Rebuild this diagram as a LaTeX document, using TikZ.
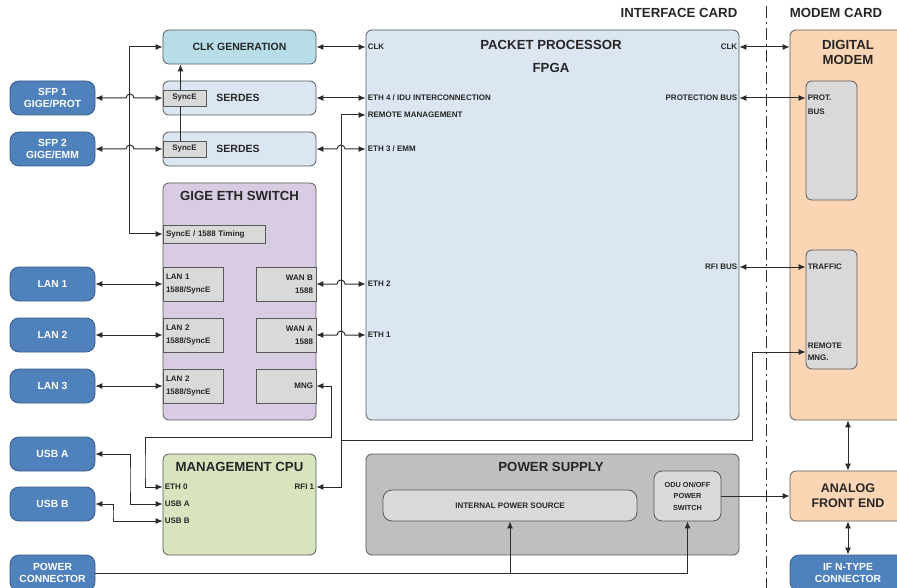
\documentclass[tikz,border=0pt]{standalone}
\usepackage{fontspec}
\setmainfont{Liberation Sans}
\usetikzlibrary{positioning,calc,arrows.meta}

\definecolor{extblue}{HTML}{4F81BD}
\definecolor{extedge}{HTML}{385D8A}
\definecolor{clkfill}{HTML}{B6DDE8}
\definecolor{fpgafill}{HTML}{DCE6F2}
\definecolor{swfill}{HTML}{D8CCE2}
\definecolor{cpufill}{HTML}{D7E4BD}
\definecolor{psfill}{HTML}{BFBFBF}
\definecolor{portfill}{HTML}{D9D9D9}
\definecolor{modemfill}{HTML}{FCD5B5}
\definecolor{edgegray}{HTML}{595959}
\definecolor{wiregray}{HTML}{2B2B2B}
\definecolor{inkgray}{HTML}{262626}

\begin{document}
\begin{tikzpicture}[
  x=1pt, y=-1pt,
  font=\bfseries,
  blk/.style={draw=edgegray, line width=0.8pt, rounded corners=6pt, inner sep=0pt},
  ext/.style={blk, draw=extedge, fill=extblue, rounded corners=9pt, text=white,
    minimum width=85pt, minimum height=34pt, align=center,
    font=\bfseries\fontsize{10.3}{12}\selectfont},
  port/.style={draw=edgegray, line width=0.7pt, fill=portfill, inner sep=3pt,
    minimum height=34pt, font=\bfseries\fontsize{8}{13}\selectfont, text=inkgray},
  sig/.style={inner sep=2pt, font=\bfseries\fontsize{8}{12}\selectfont, text=inkgray},
  ttl/.style={inner sep=0pt, font=\bfseries\fontsize{13.2}{15}\selectfont, text=inkgray},
  sub/.style={inner sep=0pt, font=\bfseries\fontsize{10.5}{12}\selectfont, text=inkgray},
  wire/.style={draw=wiregray, line width=1pt},
  one/.style={wire, -{Latex[length=7pt,width=6pt]}},
  both/.style={wire, {Latex[length=7pt,width=6pt]}-{Latex[length=7pt,width=6pt]}},
  ]
  \path[use as bounding box, clip] (0,0) rectangle (897,588);

  % card split
  \node[ttl] (ifcard) at (679,13) {INTERFACE CARD};
  \node[ttl] (mdcard) at (836,13) {MODEM CARD};
  \coordinate (split-top) at (766,6);
  \coordinate (split-bot) at (766,592);
  \draw[wire, dash pattern=on 12pt off 4pt on 2pt off 4pt] (split-top) -- (split-bot);

  % external connectors
  \node[ext] (sfp1) at (52.5,98)  {SFP 1\\GIGE/PROT};
  \node[ext] (sfp2) at (52.5,149) {SFP 2\\GIGE/EMM};
  \node[ext] (lan1) at (52.5,284) {LAN 1};
  \node[ext] (lan2) at (52.5,335) {LAN 2};
  \node[ext] (lan3) at (52.5,386) {LAN 3};
  \node[ext] (usba) at (52.5,454) {USB A};
  \node[ext] (usbb) at (52.5,504) {USB B};
  \node[ext, minimum height=36pt] (pwr) at (52.5,573) {POWER\\CONNECTOR};

  % clock and serdes
  \node[blk, fill=clkfill, minimum width=153pt, minimum height=34pt] (clkgen) at (239.5,47) {};
  \node[sub] at (clkgen) {CLK GENERATION};
  \node[blk, fill=fpgafill, minimum width=153pt, minimum height=34pt] (serdesA) at (239.5,98) {};
  \node[sub] at (238,98) {SERDES};
  \node[blk, fill=fpgafill, minimum width=153pt, minimum height=34pt] (serdesB) at (239.5,149) {};
  \node[sub] at (238,149) {SERDES};
  \node[port, minimum height=16pt, text width=37pt, align=center] (syncA) at (184.5,98) {SyncE};
  \node[port, minimum height=16pt, text width=37pt, align=center] (syncB) at (184.5,149) {SyncE};

  % switch
  \node[blk, fill=swfill, minimum width=153pt, minimum height=237pt] (sw) at (239.5,301.5) {};
  \node[ttl] at (239.5,196) {GIGE ETH SWITCH};
  \node[port, minimum height=18pt, text width=96pt, align=left] (timing) at (214,234) {SyncE / 1588 Timing};
  \node[port, text width=54pt, align=left]  (lan1p) at (193,284) {LAN 1\\1588/SyncE};
  \node[port, text width=54pt, align=left]  (lan2p) at (193,335) {LAN 2\\1588/SyncE};
  \node[port, text width=54pt, align=left]  (lan3p) at (193,386) {LAN 2\\1588/SyncE};
  \node[port, text width=54pt, align=right] (wanb)  at (286,284) {WAN B\\1588};
  \node[port, text width=54pt, align=right] (wana)  at (286,335) {WAN A\\1588};
  \node[port, text width=54pt, align=right] (mng)   at (286,386) {MNG};

  % management cpu
  \node[blk, fill=cpufill, minimum width=153pt, minimum height=101pt] (cpu) at (239.5,504.5) {};
  \node[ttl] at (239.5,467) {MANAGEMENT CPU};
  \node[sig, anchor=west] (cpu-eth0) at (cpu.west |- 0,487) {ETH 0};
  \node[sig, anchor=west] (cpu-usba) at (cpu.west |- 0,504) {USB A};
  \node[sig, anchor=west] (cpu-usbb) at (cpu.west |- 0,521) {USB B};
  \node[sig, anchor=east] (cpu-rfi1) at (cpu.east |- 0,487) {RFI 1};

  % packet processor
  \node[blk, fill=fpgafill, minimum width=373pt, minimum height=390pt] (pp) at (552.5,225) {};
  \node[ttl] at (551,45) {PACKET PROCESSOR};
  \node[ttl] at (551,68) {FPGA};
  \node[sig, anchor=west] (pp-clk)  at (pp.west |- clkgen)  {CLK};
  \node[sig, anchor=west] (pp-eth4) at (pp.west |- serdesA) {ETH 4 / IDU INTERCONNECTION};
  \node[sig, anchor=west] (pp-rmgt) at (pp.west |- 0,115)   {REMOTE MANAGEMENT};
  \node[sig, anchor=west] (pp-eth3) at (pp.west |- serdesB) {ETH 3 / EMM};
  \node[sig, anchor=west] (pp-eth2) at (pp.west |- wanb)    {ETH 2};
  \node[sig, anchor=west] (pp-eth1) at (pp.west |- wana)    {ETH 1};
  \node[sig, anchor=east] (pp-clkr) at (pp.east |- clkgen)  {CLK};
  \node[sig, anchor=east] (pp-prot) at (pp.east |- serdesA) {PROTECTION BUS};
  \node[sig, anchor=east] (pp-rfi)  at (pp.east |- 0,267)   {RFI BUS};

  % power supply
  \node[blk, fill=psfill, minimum width=373pt, minimum height=101pt] (ps) at (552.5,504.5) {};
  \node[ttl] at (551,467) {POWER SUPPLY};
  \node[blk, fill=portfill, rounded corners=9pt, minimum width=254pt, minimum height=31pt,
    font=\bfseries\fontsize{8}{10}\selectfont, text=inkgray] (intps) at (510,505.5) {INTERNAL POWER SOURCE};
  \node[blk, fill=portfill, rounded corners=8pt, minimum width=67pt, minimum height=50pt, align=center,
    font=\bfseries\fontsize{7.3}{11.5}\selectfont, text=inkgray] (odu) at (687.5,496) {ODU ON/OFF\\POWER\\SWITCH};

  % modem card
  \node[blk, fill=modemfill, minimum width=116pt, minimum height=390pt] (modem) at (848,225) {};
  \node[ttl, align=center] at (848,52.5) {DIGITAL\\MODEM};
  \node[blk, fill=portfill, minimum width=51pt, minimum height=119pt] (protbus) at (831.5,140.5) {};
  \node[sig, anchor=west, align=left, font=\bfseries\fontsize{8}{14}\selectfont] at (protbus.west |- 0,105) {PROT.\\BUS};
  \node[blk, fill=portfill, minimum width=51pt, minimum height=119pt] (trafbox) at (831.5,309.5) {};
  \node[sig, anchor=west] (md-traf) at (trafbox.west |- pp-rfi) {TRAFFIC};
  \node[sig, anchor=west, align=left] (md-rmng) at (trafbox.west |- 0,352) {REMOTE\\MNG.};
  \node[blk, fill=modemfill, minimum width=116pt, minimum height=50pt, align=center,
    font=\bfseries\fontsize{12.5}{15}\selectfont, text=inkgray] (afe) at (848,496) {ANALOG\\FRONT END};
  \node[ext, minimum width=116pt, minimum height=36pt] (ifn) at (848,573) {IF N-TYPE\\CONNECTOR};

  % clock / sync wiring
  \draw[both] (clkgen.west) -- ++(-33,0) |- (timing.west);
  \draw[both] (sfp1.east) -- (126,98) arc[start angle=180, end angle=360, radius=4] -- (syncA.west);
  \draw[both] (sfp2.east) -- (126,149) arc[start angle=180, end angle=360, radius=4] -- (syncB.west);
  \draw[wire] ([xshift=-4pt]syncB.north) -- ([xshift=-4pt]syncA.south);
  \draw[one] ([xshift=-4pt]syncA.north) -- ([xshift=-4pt]syncA.north |- clkgen.south);
  \draw[both] (clkgen.east) -- (pp-clk.west);
  \draw[both] (serdesA.east) -- (pp-eth4.west);
  \draw[both] (serdesB.east) -- (337,149) arc[start angle=180, end angle=360, radius=4] -- (pp-eth3.west);

  % lan ports
  \draw[both] (lan1.east) -- (lan1p.west);
  \draw[both] (lan2.east) -- (lan2p.west);
  \draw[both] (lan3.east) -- (lan3p.west);
  \draw[both] (wanb.east) -- (337,284) arc[start angle=180, end angle=360, radius=4] -- (pp-eth2.west);
  \draw[both] (wana.east) -- (337,335) arc[start angle=180, end angle=360, radius=4] -- (pp-eth1.west);

  % management
  \coordinate (tee) at (341,440);
  \coordinate (bend) at (752,440);
  \draw[one] (tee) |- (pp-rmgt.west);
  \draw[one] (tee) |- (cpu-rfi1.east);
  \draw[one] (tee) -- (bend) |- (md-rmng.west);
  \draw[both] (mng.east) -| (331,437) -| (145,470) |- (cpu-eth0.west);
  \draw[both] (usba.east) -| (130,480) |- (cpu-usba.west);
  \draw[both] (usbb.east) -| (113,515) |- (cpu-usbb.west);

  % card to card
  \draw[both] (pp-clkr.east) -- (pp-clkr.east -| modem.west);
  \draw[both] (pp-prot.east) -- (pp-prot.east -| protbus.west);
  \draw[both] (pp-rfi.east) -- (md-traf.west);
  \draw[both] (modem.south) -- (afe.north);
  \draw[both] (afe.south) -- (ifn.north);

  % power
  \draw[one] (pwr.east) -| (odu.south);
  \draw[one] (intps.south |- pwr.east) -- (intps.south);
  \draw[one] (odu.east) -- (afe.west);
\end{tikzpicture}
\end{document}
